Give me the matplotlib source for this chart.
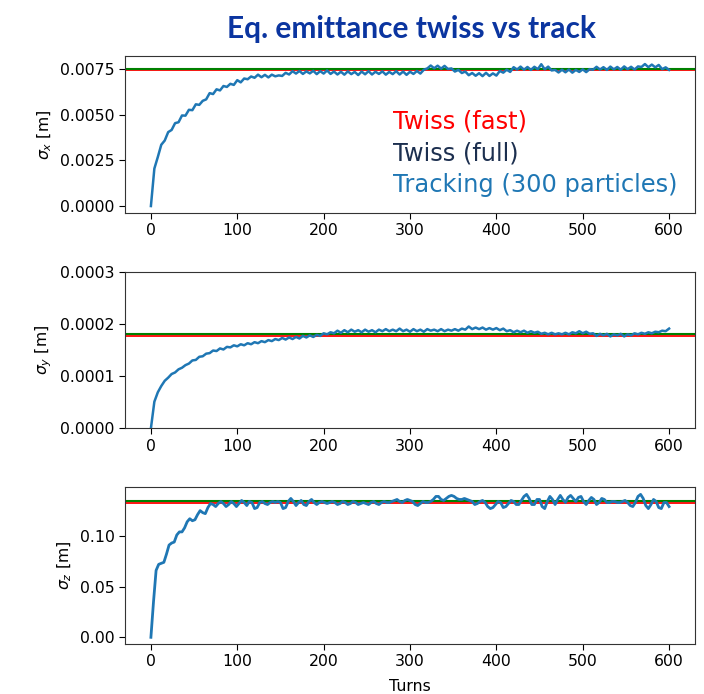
import numpy as np
import matplotlib
matplotlib.use("Agg")
import matplotlib.pyplot as plt
from matplotlib.ticker import FormatStrFormatter

# Tracking results: beam sizes sampled every few turns
sigma_x = [
    0.00000, 0.00205, 0.00268, 0.00335, 0.00358, 0.00404, 0.00416, 0.00453, 0.00458, 0.00495,
    0.00494, 0.00526, 0.00524, 0.00556, 0.00553, 0.00575, 0.00583, 0.00617, 0.00612, 0.00638,
    0.00632, 0.00656, 0.00651, 0.00668, 0.00662, 0.00688, 0.00676, 0.00697, 0.00693, 0.00708,
    0.00701, 0.00718, 0.00704, 0.00717, 0.00703, 0.00718, 0.00709, 0.00714, 0.00711, 0.00728,
    0.00719, 0.00737, 0.00724, 0.00738, 0.00722, 0.00736, 0.00725, 0.00739, 0.00721, 0.00737,
    0.00724, 0.00741, 0.00722, 0.00735, 0.00719, 0.00734, 0.00718, 0.00736, 0.00721, 0.00733,
    0.00716, 0.00735, 0.00720, 0.00737, 0.00719, 0.00734, 0.00722, 0.00736, 0.00718, 0.00733,
    0.00721, 0.00737, 0.00719, 0.00735, 0.00717, 0.00734, 0.00722, 0.00738, 0.00724, 0.00745,
    0.00752, 0.00768, 0.00753, 0.00767, 0.00751, 0.00766, 0.00749, 0.00752, 0.00735, 0.00744,
    0.00727, 0.00735, 0.00715, 0.00727, 0.00712, 0.00726, 0.00710, 0.00728, 0.00711, 0.00725,
    0.00713, 0.00738, 0.00729, 0.00745, 0.00733, 0.00759, 0.00746, 0.00762, 0.00745, 0.00760,
    0.00744, 0.00761, 0.00748, 0.00775, 0.00747, 0.00762, 0.00741, 0.00744, 0.00730, 0.00745,
    0.00731, 0.00746, 0.00729, 0.00744, 0.00733, 0.00747, 0.00732, 0.00748, 0.00745, 0.00761,
    0.00746, 0.00759, 0.00744, 0.00762, 0.00747, 0.00760, 0.00745, 0.00763, 0.00748, 0.00761,
    0.00746, 0.00763, 0.00760, 0.00776, 0.00759, 0.00773, 0.00758, 0.00771, 0.00748, 0.00758,
    0.00744,
]
step_x = 4

# vertical size in micrometres
sigma_y_um = [
    0, 51, 69, 81, 91, 97, 104, 107, 113, 116,
    121, 124, 130, 131, 137, 138, 143, 144, 149, 148,
    153, 151, 156, 155, 159, 157, 161, 159, 163, 161,
    165, 163, 167, 165, 169, 167, 171, 169, 173, 170,
    174, 171, 175, 172, 177, 174, 178, 175, 179, 177,
    182, 180, 184, 182, 187, 183, 188, 184, 189, 185,
    188, 184, 189, 185, 188, 184, 189, 186, 190, 186,
    189, 186, 191, 186, 189, 185, 190, 186, 189, 185,
    190, 187, 189, 186, 190, 186, 189, 187, 190, 187,
    191, 189, 195, 190, 193, 190, 193, 189, 192, 189,
    192, 188, 191, 186, 188, 184, 187, 184, 187, 183,
    186, 183, 185, 181, 183, 180, 183, 180, 182, 180,
    183, 180, 184, 182, 186, 182, 185, 181, 182, 177,
    181, 178, 181, 176, 180, 178, 181, 176, 180, 178,
    182, 180, 183, 181, 184, 182, 185, 184, 187, 186,
    191,
]
step_y = 4

sigma_z = [
    0.000, 0.035, 0.066, 0.072, 0.073, 0.074, 0.082, 0.091, 0.093, 0.094,
    0.101, 0.104, 0.104, 0.108, 0.114, 0.117, 0.115, 0.116, 0.121, 0.125,
    0.123, 0.122, 0.128, 0.132, 0.131, 0.129, 0.132, 0.134, 0.132, 0.129,
    0.131, 0.134, 0.132, 0.129, 0.132, 0.135, 0.133, 0.130, 0.134, 0.133,
    0.127, 0.128, 0.133, 0.134, 0.132, 0.131, 0.133, 0.134, 0.133, 0.134,
    0.133, 0.127, 0.128, 0.134, 0.137, 0.134, 0.130, 0.133, 0.135, 0.131,
    0.130, 0.134, 0.136, 0.133, 0.131, 0.133, 0.134, 0.133, 0.132, 0.133,
    0.134, 0.133, 0.131, 0.132, 0.134, 0.133, 0.131, 0.132, 0.134, 0.133,
    0.131, 0.132, 0.133, 0.132, 0.131, 0.133, 0.134, 0.132, 0.131, 0.133,
    0.134, 0.133, 0.133, 0.134, 0.135, 0.136, 0.134, 0.133, 0.135, 0.136,
    0.135, 0.134, 0.131, 0.130, 0.132, 0.134, 0.133, 0.133, 0.134, 0.136,
    0.139, 0.139, 0.136, 0.135, 0.137, 0.139, 0.140, 0.139, 0.137, 0.136,
    0.136, 0.137, 0.136, 0.135, 0.134, 0.131, 0.132, 0.134, 0.135, 0.133,
    0.129, 0.127, 0.128, 0.131, 0.134, 0.133, 0.128, 0.129, 0.132, 0.135,
    0.134, 0.131, 0.131, 0.135, 0.139, 0.141, 0.137, 0.131, 0.131, 0.136,
    0.136, 0.129, 0.127, 0.134, 0.139, 0.136, 0.131, 0.136, 0.140, 0.136,
    0.133, 0.138, 0.140, 0.137, 0.134, 0.138, 0.139, 0.134, 0.131, 0.135,
    0.138, 0.136, 0.131, 0.133, 0.137, 0.136, 0.133, 0.133, 0.134, 0.134,
    0.133, 0.133, 0.134, 0.135, 0.133, 0.130, 0.129, 0.133, 0.139, 0.141,
    0.137, 0.130, 0.127, 0.131, 0.136, 0.134, 0.128, 0.127, 0.133, 0.133,
    0.129,
]
step_z = 3

# Twiss equilibrium values: (fast, full)
twiss_x = (0.00744, 0.00750)
twiss_y = (0.000177, 0.000181)
twiss_z = (0.1322, 0.1348)

legend_labels = ["Twiss (fast)", "Twiss (full)", "Tracking (300 particles)"]
legend_colors = ["#ff0000", "#1c2f4f", "#1f77b4"]

panels = [
    dict(values=np.array(sigma_x), step=step_x, twiss=twiss_x,
         ylabel=r"$\sigma_x$ [m]", ylim=(-0.00038, 0.0082),
         yticks=[0, 0.0025, 0.005, 0.0075], fmt="%.4f", lw=1.8),
    dict(values=np.array(sigma_y_um) * 1e-6, step=step_y, twiss=twiss_y,
         ylabel=r"$\sigma_y$ [m]", ylim=(0, 0.0003),
         yticks=[0, 0.0001, 0.0002, 0.0003], fmt="%.4f", lw=1.8),
    dict(values=np.array(sigma_z), step=step_z, twiss=twiss_z,
         ylabel=r"$\sigma_z$ [m]", ylim=(-0.0066, 0.148),
         yticks=[0, 0.05, 0.10], fmt="%.2f", lw=2.0),
]

plt.rcParams["font.size"] = 11.3
plt.rcParams["xtick.major.size"] = 4
plt.rcParams["ytick.major.size"] = 4

fig = plt.figure(figsize=(7.04, 6.94), dpi=100)
W, H = 704, 694
boxes = [(56, 213), (271.7, 428.3), (487.3, 644)]

for p, (top, bot) in zip(panels, boxes):
    ax = fig.add_axes([125 / W, 1 - bot / H, 570 / W, (bot - top) / H])
    turns = np.arange(len(p["values"])) * p["step"]
    ax.axhline(p["twiss"][0], color="red", lw=1.3, zorder=2)
    ax.axhline(p["twiss"][1], color="green", lw=1.5, zorder=2)
    ax.plot(turns, p["values"], color="#1f77b4", lw=p["lw"], zorder=3)
    ax.set_xlim(-30, 630)
    ax.set_xticks([0, 100, 200, 300, 400, 500, 600])
    ax.set_ylim(*p["ylim"])
    ax.set_yticks(p["yticks"])
    ax.yaxis.set_major_formatter(FormatStrFormatter(p["fmt"]))
    ax.set_ylabel(p["ylabel"])
    for sp in ax.spines.values():
        sp.set_color("#333333")

ax.set_xlabel("Turns", labelpad=7)

# coloured legend text inside the first panel
for i, (lab, col) in enumerate(zip(legend_labels, legend_colors)):
    fig.text(393 / W, 1 - (121.7 + 31.5 * i) / H, lab, color=col,
             fontsize=17.4, va="center", ha="left")

fig.text(411 / W, 1 - 29 / H, "Eq. emittance twiss vs track", color="#0b35a0",
         fontsize=21.5, fontweight="bold", family="Lato", ha="center", va="center")

fig.savefig("out.png", dpi=100)
